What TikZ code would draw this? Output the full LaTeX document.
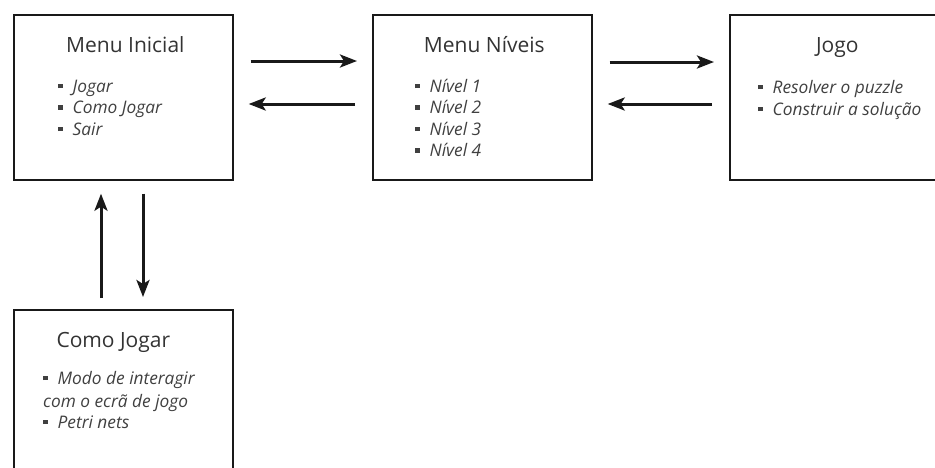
\documentclass[tikz,border=0pt]{standalone}
\usepackage{fontspec}
\setmainfont{Open Sans}
\usetikzlibrary{arrows.meta,calc}

% square bullet followed by a gap
\newcommand{\sqbul}{\rule[4pt]{4.5pt}{4.5pt}\hspace{10pt}}

\begin{document}
\begin{tikzpicture}[x=1pt,y=-1pt,
  box/.style={draw=black!90, line width=1.7pt, minimum width=219pt,
    minimum height=165pt, inner sep=0pt, anchor=north west},
  title/.style={anchor=base, inner sep=0pt, text=black!80,
    font=\fontsize{21}{25}\selectfont},
  item/.style={anchor=base west, inner sep=0pt, text=black!75,
    font=\fontsize{17.3}{20}\selectfont\itshape},
  flow/.style={line width=3pt, draw=black!90,
    -{Stealth[length=17pt,width=13pt,inset=4pt]}},
  hgap/.style={shorten <=17pt, shorten >=15pt},
]
\useasboundingbox (0,0) rectangle (935,467);
\clip (0,0) rectangle (935,467);

% screens
\node[box] (mi) at (13,14) {};
\node[box] (mn) at (372,14) {};
\node[box] (jg) at (729,14) {};
\node[box] (cj) at (13,309) {};

% Menu Inicial
\node[title] (mit) at ($(mi.north)+(2,38)$) {Menu Inicial};
\node[item] (mi1) at ($(mi.north west)+(45,78)$) {\sqbul Jogar};
\node[item] (mi2) at ($(mi.north west)+(45,99.5)$) {\sqbul Como Jogar};
\node[item] (mi3) at ($(mi.north west)+(45,121)$) {\sqbul Sair};

% Menu Niveis
\node[title] (mnt) at ($(mn.north)+(2,38)$) {Menu Níveis};
\node[item] (mn1) at ($(mn.north west)+(43,78)$) {\sqbul Nível 1};
\node[item] (mn2) at ($(mn.north west)+(43,99.5)$) {\sqbul Nível 2};
\node[item] (mn3) at ($(mn.north west)+(43,121)$) {\sqbul Nível 3};
\node[item] (mn4) at ($(mn.north west)+(43,142.5)$) {\sqbul Nível 4};

% Jogo
\node[title] (jgt) at ($(jg.north)+(-2,38)$) {Jogo};
\node[item] (jg1) at ($(jg.north west)+(29,79)$) {\sqbul Resolver o puzzle};
\node[item] (jg2) at ($(jg.north west)+(29,101)$) {\sqbul Construir a solução};

% Como Jogar
\node[title] (cjt) at ($(cj.north)+(-10,38)$) {Como Jogar};
\node[item] (cj1) at ($(cj.north west)+(30,75)$) {\sqbul Modo de interagir};
\node[item] (cj2) at ($(cj.north west)+(30,98)$) {com o ecrã de jogo};
\node[item] (cj3) at ($(cj.north west)+(30,119)$) {\sqbul Petri nets};

% transitions between screens
\draw[flow,hgap] ($(mi.north east)+(0,47)$) -- ($(mn.north west)+(0,47)$);
\draw[flow,hgap] ($(mn.north west)+(0,90)$) -- ($(mi.north east)+(0,90)$);
\draw[flow,hgap] ($(mn.north east)+(0,48)$) -- ($(jg.north west)+(0,48)$);
\draw[flow,hgap] ($(jg.north west)+(0,90)$) -- ($(mn.north east)+(0,90)$);
\draw[flow,shorten <=11pt,shorten >=13pt] ($(cj.north west)+(88,0)$) -- ($(mi.south west)+(88,0)$);
\draw[flow,shorten <=13pt,shorten >=12pt] ($(mi.south west)+(130,0)$) -- ($(cj.north west)+(130,0)$);
\end{tikzpicture}
\end{document}
